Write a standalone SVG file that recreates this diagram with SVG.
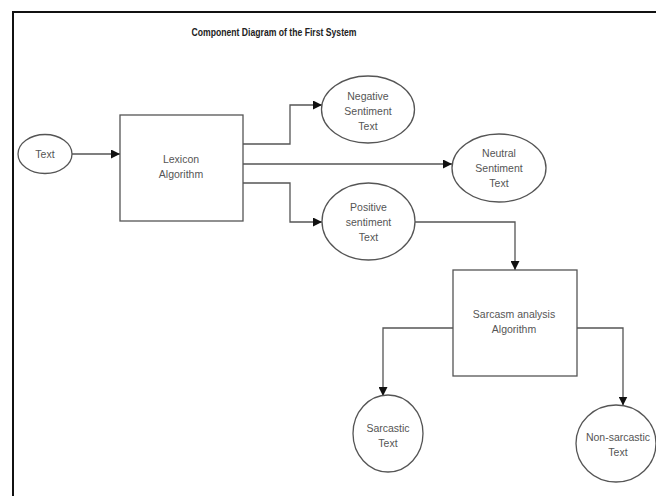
<svg xmlns="http://www.w3.org/2000/svg" width="656" height="496" viewBox="0 0 656 496">
<style>
.shape{fill:#fff;stroke:#555;stroke-width:1.3}
.lbl{font-family:"Liberation Sans",Arial,sans-serif;font-size:10.5px;fill:#555;text-anchor:middle}
.title{font-family:"Liberation Sans",Arial,sans-serif;font-size:10.5px;font-weight:bold;fill:#222;text-anchor:middle}
.conn{fill:none;stroke:#555;stroke-width:1.3}
</style>
<defs>
<marker id="arr" viewBox="0 0 10 10" refX="10" refY="5" markerWidth="9" markerHeight="9" markerUnits="userSpaceOnUse" orient="auto">
<path d="M0,0 L10,5 L0,10 z" fill="#111"/>
</marker>
</defs>
<rect x="0" y="0" width="656" height="496" fill="#fff"/>
<rect x="13" y="12" width="660" height="500" fill="none" stroke="#111" stroke-width="2"/>
<text class="title" x="274" y="35.5" textLength="165" lengthAdjust="spacingAndGlyphs">Component Diagram of the First System</text>
<g id="connectors">
<path class="conn" d="M72,154 H120" marker-end="url(#arr)"/>
<path class="conn" d="M243,144 H290 V105 H322" marker-end="url(#arr)"/>
<path class="conn" d="M243,164 H452" marker-end="url(#arr)"/>
<path class="conn" d="M243,183 H290 V222 H322" marker-end="url(#arr)"/>
<path class="conn" d="M415,222 H515 V270" marker-end="url(#arr)"/>
<path class="conn" d="M453,328 H383 V396" marker-end="url(#arr)"/>
<path class="conn" d="M577,328 H623 V405.5" marker-end="url(#arr)"/>
</g>
<g id="text-input">
<ellipse class="shape" cx="45" cy="154" rx="27" ry="19.5"/>
<text class="lbl" x="45" y="157.5">Text</text>
</g>
<g id="lexicon">
<rect class="shape" x="120" y="115" width="123" height="106"/>
<text class="lbl" x="181" y="163">Lexicon</text>
<text class="lbl" x="181" y="178">Algorithm</text>
</g>
<g id="negative">
<ellipse class="shape" cx="368" cy="109.5" rx="46.5" ry="33.5"/>
<text class="lbl" x="368" y="99.5">Negative</text>
<text class="lbl" x="368" y="114.5">Sentiment</text>
<text class="lbl" x="368" y="129.5">Text</text>
</g>
<g id="neutral">
<ellipse class="shape" cx="499" cy="168" rx="47" ry="34"/>
<text class="lbl" x="499" y="156.5">Neutral</text>
<text class="lbl" x="499" y="171.5">Sentiment</text>
<text class="lbl" x="499" y="187">Text</text>
</g>
<g id="positive">
<ellipse class="shape" cx="368.5" cy="221.5" rx="46.5" ry="38.5"/>
<text class="lbl" x="368.5" y="210.5">Positive</text>
<text class="lbl" x="368.5" y="225.5">sentiment</text>
<text class="lbl" x="368.5" y="240.5">Text</text>
</g>
<g id="sarcasm">
<rect class="shape" x="453" y="270" width="124" height="106"/>
<text class="lbl" x="514" y="317.5">Sarcasm analysis</text>
<text class="lbl" x="514" y="332.5">Algorithm</text>
</g>
<g id="sarcastic">
<ellipse class="shape" cx="388" cy="433.5" rx="35" ry="38.5"/>
<text class="lbl" x="388" y="431.5">Sarcastic</text>
<text class="lbl" x="388" y="446.5">Text</text>
</g>
<g id="non-sarcastic">
<ellipse class="shape" cx="616" cy="443.5" rx="40" ry="38.5"/>
<text class="lbl" x="618" y="440.5">Non-sarcastic</text>
<text class="lbl" x="618" y="455.5">Text</text>
</g>
</svg>
